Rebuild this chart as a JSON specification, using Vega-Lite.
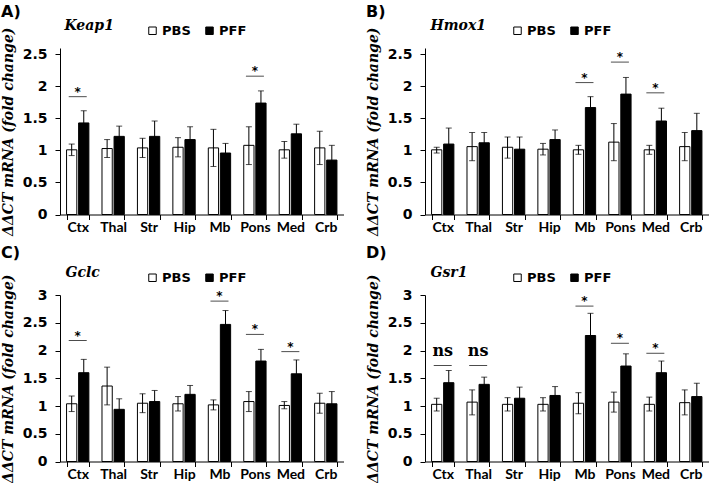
{
  "$schema": "https://vega.github.io/schema/vega-lite/v6.json",
  "padding": {"left": 1, "top": 4, "right": 0, "bottom": 0},
  "background": "white",
  "datasets": {
    "bars": [
      {"panel":"A","region":"Ctx","group":"PBS","mean":1.01,"lo":0.92,"hi":1.10},
      {"panel":"A","region":"Ctx","group":"PFF","mean":1.43,"lo":1.24,"hi":1.62},
      {"panel":"A","region":"Thal","group":"PBS","mean":1.03,"lo":0.89,"hi":1.17},
      {"panel":"A","region":"Thal","group":"PFF","mean":1.22,"lo":1.06,"hi":1.38},
      {"panel":"A","region":"Str","group":"PBS","mean":1.04,"lo":0.89,"hi":1.19},
      {"panel":"A","region":"Str","group":"PFF","mean":1.22,"lo":0.98,"hi":1.46},
      {"panel":"A","region":"Hip","group":"PBS","mean":1.05,"lo":0.90,"hi":1.20},
      {"panel":"A","region":"Hip","group":"PFF","mean":1.17,"lo":0.97,"hi":1.37},
      {"panel":"A","region":"Mb","group":"PBS","mean":1.04,"lo":0.75,"hi":1.33},
      {"panel":"A","region":"Mb","group":"PFF","mean":0.96,"lo":0.81,"hi":1.11},
      {"panel":"A","region":"Pons","group":"PBS","mean":1.08,"lo":0.78,"hi":1.37},
      {"panel":"A","region":"Pons","group":"PFF","mean":1.74,"lo":1.55,"hi":1.93},
      {"panel":"A","region":"Med","group":"PBS","mean":1.01,"lo":0.88,"hi":1.14},
      {"panel":"A","region":"Med","group":"PFF","mean":1.26,"lo":1.11,"hi":1.41},
      {"panel":"A","region":"Crb","group":"PBS","mean":1.04,"lo":0.78,"hi":1.30},
      {"panel":"A","region":"Crb","group":"PFF","mean":0.85,"lo":0.62,"hi":1.08},
      {"panel":"B","region":"Ctx","group":"PBS","mean":1.01,"lo":0.96,"hi":1.05},
      {"panel":"B","region":"Ctx","group":"PFF","mean":1.10,"lo":0.86,"hi":1.35},
      {"panel":"B","region":"Thal","group":"PBS","mean":1.06,"lo":0.84,"hi":1.28},
      {"panel":"B","region":"Thal","group":"PFF","mean":1.12,"lo":0.96,"hi":1.28},
      {"panel":"B","region":"Str","group":"PBS","mean":1.05,"lo":0.88,"hi":1.21},
      {"panel":"B","region":"Str","group":"PFF","mean":1.02,"lo":0.83,"hi":1.21},
      {"panel":"B","region":"Hip","group":"PBS","mean":1.02,"lo":0.93,"hi":1.11},
      {"panel":"B","region":"Hip","group":"PFF","mean":1.17,"lo":1.02,"hi":1.32},
      {"panel":"B","region":"Mb","group":"PBS","mean":1.01,"lo":0.94,"hi":1.08},
      {"panel":"B","region":"Mb","group":"PFF","mean":1.67,"lo":1.50,"hi":1.84},
      {"panel":"B","region":"Pons","group":"PBS","mean":1.13,"lo":0.84,"hi":1.42},
      {"panel":"B","region":"Pons","group":"PFF","mean":1.88,"lo":1.62,"hi":2.14},
      {"panel":"B","region":"Med","group":"PBS","mean":1.01,"lo":0.94,"hi":1.08},
      {"panel":"B","region":"Med","group":"PFF","mean":1.46,"lo":1.26,"hi":1.66},
      {"panel":"B","region":"Crb","group":"PBS","mean":1.06,"lo":0.84,"hi":1.28},
      {"panel":"B","region":"Crb","group":"PFF","mean":1.31,"lo":1.04,"hi":1.58},
      {"panel":"C","region":"Ctx","group":"PBS","mean":1.04,"lo":0.90,"hi":1.18},
      {"panel":"C","region":"Ctx","group":"PFF","mean":1.60,"lo":1.35,"hi":1.84},
      {"panel":"C","region":"Thal","group":"PBS","mean":1.36,"lo":1.02,"hi":1.70},
      {"panel":"C","region":"Thal","group":"PFF","mean":0.94,"lo":0.75,"hi":1.13},
      {"panel":"C","region":"Str","group":"PBS","mean":1.05,"lo":0.88,"hi":1.22},
      {"panel":"C","region":"Str","group":"PFF","mean":1.08,"lo":0.88,"hi":1.28},
      {"panel":"C","region":"Hip","group":"PBS","mean":1.04,"lo":0.91,"hi":1.17},
      {"panel":"C","region":"Hip","group":"PFF","mean":1.21,"lo":1.05,"hi":1.37},
      {"panel":"C","region":"Mb","group":"PBS","mean":1.02,"lo":0.93,"hi":1.11},
      {"panel":"C","region":"Mb","group":"PFF","mean":2.47,"lo":2.23,"hi":2.72},
      {"panel":"C","region":"Pons","group":"PBS","mean":1.08,"lo":0.90,"hi":1.26},
      {"panel":"C","region":"Pons","group":"PFF","mean":1.81,"lo":1.60,"hi":2.02},
      {"panel":"C","region":"Med","group":"PBS","mean":1.01,"lo":0.95,"hi":1.08},
      {"panel":"C","region":"Med","group":"PFF","mean":1.58,"lo":1.34,"hi":1.83},
      {"panel":"C","region":"Crb","group":"PBS","mean":1.05,"lo":0.87,"hi":1.23},
      {"panel":"C","region":"Crb","group":"PFF","mean":1.04,"lo":0.82,"hi":1.26},
      {"panel":"D","region":"Ctx","group":"PBS","mean":1.03,"lo":0.91,"hi":1.14},
      {"panel":"D","region":"Ctx","group":"PFF","mean":1.42,"lo":1.21,"hi":1.64},
      {"panel":"D","region":"Thal","group":"PBS","mean":1.07,"lo":0.84,"hi":1.29},
      {"panel":"D","region":"Thal","group":"PFF","mean":1.39,"lo":1.25,"hi":1.52},
      {"panel":"D","region":"Str","group":"PBS","mean":1.03,"lo":0.91,"hi":1.15},
      {"panel":"D","region":"Str","group":"PFF","mean":1.14,"lo":0.94,"hi":1.34},
      {"panel":"D","region":"Hip","group":"PBS","mean":1.03,"lo":0.91,"hi":1.15},
      {"panel":"D","region":"Hip","group":"PFF","mean":1.19,"lo":1.03,"hi":1.35},
      {"panel":"D","region":"Mb","group":"PBS","mean":1.05,"lo":0.86,"hi":1.24},
      {"panel":"D","region":"Mb","group":"PFF","mean":2.27,"lo":1.87,"hi":2.67},
      {"panel":"D","region":"Pons","group":"PBS","mean":1.07,"lo":0.89,"hi":1.25},
      {"panel":"D","region":"Pons","group":"PFF","mean":1.72,"lo":1.51,"hi":1.94},
      {"panel":"D","region":"Med","group":"PBS","mean":1.03,"lo":0.91,"hi":1.16},
      {"panel":"D","region":"Med","group":"PFF","mean":1.60,"lo":1.39,"hi":1.81},
      {"panel":"D","region":"Crb","group":"PBS","mean":1.06,"lo":0.84,"hi":1.29},
      {"panel":"D","region":"Crb","group":"PFF","mean":1.17,"lo":0.94,"hi":1.41}
    ],
    "sig": [
      {"panel":"A","region":"Ctx","line":1.84,"mark":"*"},
      {"panel":"A","region":"Pons","line":2.16,"mark":"*"},
      {"panel":"B","region":"Mb","line":2.06,"mark":"*"},
      {"panel":"B","region":"Pons","line":2.38,"mark":"*"},
      {"panel":"B","region":"Med","line":1.90,"mark":"*"},
      {"panel":"C","region":"Ctx","line":2.18,"mark":"*"},
      {"panel":"C","region":"Mb","line":2.89,"mark":"*"},
      {"panel":"C","region":"Pons","line":2.29,"mark":"*"},
      {"panel":"C","region":"Med","line":1.98,"mark":"*"},
      {"panel":"D","region":"Ctx","line":1.73,"mark":"ns"},
      {"panel":"D","region":"Thal","line":1.73,"mark":"ns"},
      {"panel":"D","region":"Mb","line":2.80,"mark":"*"},
      {"panel":"D","region":"Pons","line":2.13,"mark":"*"},
      {"panel":"D","region":"Med","line":1.95,"mark":"*"}
    ]
  },
  "columns": 2,
  "bounds": "flush",
  "spacing": {"row": 80, "column": 81},
  "resolve": {
    "scale": {"x": "independent", "y": "independent", "xOffset": "independent", "fill": "independent"},
    "legend": {"fill": "independent"}
  },
  "concat": [
    {
      "width": 283.5, "height": 166.5,
      "title": {"text": "A)", "dy": 6},
      "resolve": {"axis": {"x": "independent"}},
      "layer": [
        {
          "data": {"name": "bars"},
          "transform": [{"filter": "datum.panel == 'A'"}],
          "mark": {"type": "bar", "stroke": "black", "strokeWidth": 1},
          "encoding": {
            "x": {"field": "region", "type": "nominal", "sort": ["Ctx","Thal","Str","Hip","Mb","Pons","Med","Crb"], "scale": {"paddingInner": 0.37, "paddingOuter": 0.185}, "axis": {"orient": "bottom"}},
            "xOffset": {"field": "group", "type": "nominal", "sort": ["PBS","PFF"], "scale": {"paddingInner": 0.15}},
            "y": {"field": "mean", "type": "quantitative", "scale": {"domain": [0, 2.5]}, "axis": {"values": [0,0.5,1,1.5,2,2.5], "title": "ΔΔCT mRNA (fold change)"}},
            "fill": {"field": "group", "type": "nominal", "scale": {"domain": ["PBS","PFF"], "range": ["white","black"]}}
          }
        },
        {
          "data": {"name": "bars"},
          "transform": [{"filter": "datum.panel == 'A'"}],
          "mark": {"type": "rule", "color": "black", "strokeWidth": 1},
          "encoding": {
            "x": {"field": "region", "type": "nominal", "sort": ["Ctx","Thal","Str","Hip","Mb","Pons","Med","Crb"], "axis": null},
            "xOffset": {"field": "group", "type": "nominal", "sort": ["PBS","PFF"]},
            "y": {"field": "lo", "type": "quantitative", "axis": {"values": [0,0.5,1,1.5,2,2.5], "title": "ΔΔCT mRNA (fold change)"}},
            "y2": {"field": "hi"}
          }
        },
        {
          "data": {"name": "bars"},
          "transform": [{"filter": "datum.panel == 'A'"}],
          "mark": {"type": "tick", "color": "black", "size": 6, "thickness": 1},
          "encoding": {
            "x": {"field": "region", "type": "nominal", "sort": ["Ctx","Thal","Str","Hip","Mb","Pons","Med","Crb"], "axis": null},
            "xOffset": {"field": "group", "type": "nominal", "sort": ["PBS","PFF"]},
            "y": {"field": "hi", "type": "quantitative", "axis": {"values": [0,0.5,1,1.5,2,2.5], "title": "ΔΔCT mRNA (fold change)"}}
          }
        },
        {
          "data": {"name": "bars"},
          "transform": [{"filter": "datum.panel == 'A'"}],
          "mark": {"type": "tick", "color": "black", "size": 6, "thickness": 1},
          "encoding": {
            "x": {"field": "region", "type": "nominal", "sort": ["Ctx","Thal","Str","Hip","Mb","Pons","Med","Crb"], "axis": null},
            "xOffset": {"field": "group", "type": "nominal", "sort": ["PBS","PFF"]},
            "y": {"field": "lo", "type": "quantitative", "axis": {"values": [0,0.5,1,1.5,2,2.5], "title": "ΔΔCT mRNA (fold change)"}}
          }
        },
        {
          "data": {"name": "sig"},
          "transform": [{"filter": "datum.panel == 'A'"}],
          "mark": {"type": "tick", "color": "black", "size": 18, "thickness": 1},
          "encoding": {
            "x": {"field": "region", "type": "nominal", "sort": ["Ctx","Thal","Str","Hip","Mb","Pons","Med","Crb"], "axis": {"orient": "top", "domain": false, "ticks": false, "labels": false, "title": "Keap1", "titleX": 4, "titleY": -19, "titleAlign": "left", "titleBaseline": "alphabetic", "titleFont": "DejaVu Serif", "titleFontStyle": "italic", "titleFontWeight": "bold", "titleFontSize": 14}},
            "y": {"field": "line", "type": "quantitative", "axis": {"values": [0,0.5,1,1.5,2,2.5], "title": "ΔΔCT mRNA (fold change)"}}
          }
        },
        {
          "data": {"name": "sig"},
          "transform": [{"filter": "datum.panel == 'A' && datum.mark == '*'"}],
          "mark": {"type": "text", "color": "black", "font": "DejaVu Sans", "fontWeight": "bold", "fontSize": 12, "baseline": "alphabetic", "dy": -1},
          "encoding": {
            "x": {"field": "region", "type": "nominal", "sort": ["Ctx","Thal","Str","Hip","Mb","Pons","Med","Crb"], "axis": null},
            "y": {"field": "line", "type": "quantitative", "axis": {"values": [0,0.5,1,1.5,2,2.5], "title": "ΔΔCT mRNA (fold change)"}},
            "text": {"field": "mark"}
          }
        }
      ]
    },
    {
      "width": 283.5, "height": 166.5,
      "title": {"text": "B)", "dy": 6},
      "resolve": {"axis": {"x": "independent"}},
      "layer": [
        {
          "data": {"name": "bars"},
          "transform": [{"filter": "datum.panel == 'B'"}],
          "mark": {"type": "bar", "stroke": "black", "strokeWidth": 1},
          "encoding": {
            "x": {"field": "region", "type": "nominal", "sort": ["Ctx","Thal","Str","Hip","Mb","Pons","Med","Crb"], "scale": {"paddingInner": 0.37, "paddingOuter": 0.185}, "axis": {"orient": "bottom"}},
            "xOffset": {"field": "group", "type": "nominal", "sort": ["PBS","PFF"], "scale": {"paddingInner": 0.15}},
            "y": {"field": "mean", "type": "quantitative", "scale": {"domain": [0, 2.5]}, "axis": {"values": [0,0.5,1,1.5,2,2.5], "title": "ΔΔCT mRNA (fold change)"}},
            "fill": {"field": "group", "type": "nominal", "scale": {"domain": ["PBS","PFF"], "range": ["white","black"]}}
          }
        },
        {
          "data": {"name": "bars"},
          "transform": [{"filter": "datum.panel == 'B'"}],
          "mark": {"type": "rule", "color": "black", "strokeWidth": 1},
          "encoding": {
            "x": {"field": "region", "type": "nominal", "sort": ["Ctx","Thal","Str","Hip","Mb","Pons","Med","Crb"], "axis": null},
            "xOffset": {"field": "group", "type": "nominal", "sort": ["PBS","PFF"]},
            "y": {"field": "lo", "type": "quantitative", "axis": {"values": [0,0.5,1,1.5,2,2.5], "title": "ΔΔCT mRNA (fold change)"}},
            "y2": {"field": "hi"}
          }
        },
        {
          "data": {"name": "bars"},
          "transform": [{"filter": "datum.panel == 'B'"}],
          "mark": {"type": "tick", "color": "black", "size": 6, "thickness": 1},
          "encoding": {
            "x": {"field": "region", "type": "nominal", "sort": ["Ctx","Thal","Str","Hip","Mb","Pons","Med","Crb"], "axis": null},
            "xOffset": {"field": "group", "type": "nominal", "sort": ["PBS","PFF"]},
            "y": {"field": "hi", "type": "quantitative", "axis": {"values": [0,0.5,1,1.5,2,2.5], "title": "ΔΔCT mRNA (fold change)"}}
          }
        },
        {
          "data": {"name": "bars"},
          "transform": [{"filter": "datum.panel == 'B'"}],
          "mark": {"type": "tick", "color": "black", "size": 6, "thickness": 1},
          "encoding": {
            "x": {"field": "region", "type": "nominal", "sort": ["Ctx","Thal","Str","Hip","Mb","Pons","Med","Crb"], "axis": null},
            "xOffset": {"field": "group", "type": "nominal", "sort": ["PBS","PFF"]},
            "y": {"field": "lo", "type": "quantitative", "axis": {"values": [0,0.5,1,1.5,2,2.5], "title": "ΔΔCT mRNA (fold change)"}}
          }
        },
        {
          "data": {"name": "sig"},
          "transform": [{"filter": "datum.panel == 'B'"}],
          "mark": {"type": "tick", "color": "black", "size": 18, "thickness": 1},
          "encoding": {
            "x": {"field": "region", "type": "nominal", "sort": ["Ctx","Thal","Str","Hip","Mb","Pons","Med","Crb"], "axis": {"orient": "top", "domain": false, "ticks": false, "labels": false, "title": "Hmox1", "titleX": 5, "titleY": -19, "titleAlign": "left", "titleBaseline": "alphabetic", "titleFont": "DejaVu Serif", "titleFontStyle": "italic", "titleFontWeight": "bold", "titleFontSize": 14}},
            "y": {"field": "line", "type": "quantitative", "axis": {"values": [0,0.5,1,1.5,2,2.5], "title": "ΔΔCT mRNA (fold change)"}}
          }
        },
        {
          "data": {"name": "sig"},
          "transform": [{"filter": "datum.panel == 'B' && datum.mark == '*'"}],
          "mark": {"type": "text", "color": "black", "font": "DejaVu Sans", "fontWeight": "bold", "fontSize": 12, "baseline": "alphabetic", "dy": -1},
          "encoding": {
            "x": {"field": "region", "type": "nominal", "sort": ["Ctx","Thal","Str","Hip","Mb","Pons","Med","Crb"], "axis": null},
            "y": {"field": "line", "type": "quantitative", "axis": {"values": [0,0.5,1,1.5,2,2.5], "title": "ΔΔCT mRNA (fold change)"}},
            "text": {"field": "mark"}
          }
        }
      ]
    },
    {
      "width": 283.5, "height": 166.5,
      "title": {"text": "C)"},
      "resolve": {"axis": {"x": "independent"}},
      "layer": [
        {
          "data": {"name": "bars"},
          "transform": [{"filter": "datum.panel == 'C'"}],
          "mark": {"type": "bar", "stroke": "black", "strokeWidth": 1},
          "encoding": {
            "x": {"field": "region", "type": "nominal", "sort": ["Ctx","Thal","Str","Hip","Mb","Pons","Med","Crb"], "scale": {"paddingInner": 0.37, "paddingOuter": 0.185}, "axis": {"orient": "bottom"}},
            "xOffset": {"field": "group", "type": "nominal", "sort": ["PBS","PFF"], "scale": {"paddingInner": 0.15}},
            "y": {"field": "mean", "type": "quantitative", "scale": {"domain": [0, 3]}, "axis": {"values": [0,0.5,1,1.5,2,2.5,3], "title": "ΔΔCT mRNA (fold change)"}},
            "fill": {"field": "group", "type": "nominal", "scale": {"domain": ["PBS","PFF"], "range": ["white","black"]}}
          }
        },
        {
          "data": {"name": "bars"},
          "transform": [{"filter": "datum.panel == 'C'"}],
          "mark": {"type": "rule", "color": "black", "strokeWidth": 1},
          "encoding": {
            "x": {"field": "region", "type": "nominal", "sort": ["Ctx","Thal","Str","Hip","Mb","Pons","Med","Crb"], "axis": null},
            "xOffset": {"field": "group", "type": "nominal", "sort": ["PBS","PFF"]},
            "y": {"field": "lo", "type": "quantitative", "axis": {"values": [0,0.5,1,1.5,2,2.5,3], "title": "ΔΔCT mRNA (fold change)"}},
            "y2": {"field": "hi"}
          }
        },
        {
          "data": {"name": "bars"},
          "transform": [{"filter": "datum.panel == 'C'"}],
          "mark": {"type": "tick", "color": "black", "size": 6, "thickness": 1},
          "encoding": {
            "x": {"field": "region", "type": "nominal", "sort": ["Ctx","Thal","Str","Hip","Mb","Pons","Med","Crb"], "axis": null},
            "xOffset": {"field": "group", "type": "nominal", "sort": ["PBS","PFF"]},
            "y": {"field": "hi", "type": "quantitative", "axis": {"values": [0,0.5,1,1.5,2,2.5,3], "title": "ΔΔCT mRNA (fold change)"}}
          }
        },
        {
          "data": {"name": "bars"},
          "transform": [{"filter": "datum.panel == 'C'"}],
          "mark": {"type": "tick", "color": "black", "size": 6, "thickness": 1},
          "encoding": {
            "x": {"field": "region", "type": "nominal", "sort": ["Ctx","Thal","Str","Hip","Mb","Pons","Med","Crb"], "axis": null},
            "xOffset": {"field": "group", "type": "nominal", "sort": ["PBS","PFF"]},
            "y": {"field": "lo", "type": "quantitative", "axis": {"values": [0,0.5,1,1.5,2,2.5,3], "title": "ΔΔCT mRNA (fold change)"}}
          }
        },
        {
          "data": {"name": "sig"},
          "transform": [{"filter": "datum.panel == 'C'"}],
          "mark": {"type": "tick", "color": "black", "size": 18, "thickness": 1},
          "encoding": {
            "x": {"field": "region", "type": "nominal", "sort": ["Ctx","Thal","Str","Hip","Mb","Pons","Med","Crb"], "axis": {"orient": "top", "domain": false, "ticks": false, "labels": false, "title": "Gclc", "titleX": 5, "titleY": -19, "titleAlign": "left", "titleBaseline": "alphabetic", "titleFont": "DejaVu Serif", "titleFontStyle": "italic", "titleFontWeight": "bold", "titleFontSize": 14}},
            "y": {"field": "line", "type": "quantitative", "axis": {"values": [0,0.5,1,1.5,2,2.5,3], "title": "ΔΔCT mRNA (fold change)"}}
          }
        },
        {
          "data": {"name": "sig"},
          "transform": [{"filter": "datum.panel == 'C' && datum.mark == '*'"}],
          "mark": {"type": "text", "color": "black", "font": "DejaVu Sans", "fontWeight": "bold", "fontSize": 12, "baseline": "alphabetic", "dy": -1},
          "encoding": {
            "x": {"field": "region", "type": "nominal", "sort": ["Ctx","Thal","Str","Hip","Mb","Pons","Med","Crb"], "axis": null},
            "y": {"field": "line", "type": "quantitative", "axis": {"values": [0,0.5,1,1.5,2,2.5,3], "title": "ΔΔCT mRNA (fold change)"}},
            "text": {"field": "mark"}
          }
        }
      ]
    },
    {
      "width": 283.5, "height": 166.5,
      "title": {"text": "D)"},
      "resolve": {"axis": {"x": "independent"}},
      "layer": [
        {
          "data": {"name": "bars"},
          "transform": [{"filter": "datum.panel == 'D'"}],
          "mark": {"type": "bar", "stroke": "black", "strokeWidth": 1},
          "encoding": {
            "x": {"field": "region", "type": "nominal", "sort": ["Ctx","Thal","Str","Hip","Mb","Pons","Med","Crb"], "scale": {"paddingInner": 0.37, "paddingOuter": 0.185}, "axis": {"orient": "bottom"}},
            "xOffset": {"field": "group", "type": "nominal", "sort": ["PBS","PFF"], "scale": {"paddingInner": 0.15}},
            "y": {"field": "mean", "type": "quantitative", "scale": {"domain": [0, 3]}, "axis": {"values": [0,0.5,1,1.5,2,2.5,3], "title": "ΔΔCT mRNA (fold change)"}},
            "fill": {"field": "group", "type": "nominal", "scale": {"domain": ["PBS","PFF"], "range": ["white","black"]}}
          }
        },
        {
          "data": {"name": "bars"},
          "transform": [{"filter": "datum.panel == 'D'"}],
          "mark": {"type": "rule", "color": "black", "strokeWidth": 1},
          "encoding": {
            "x": {"field": "region", "type": "nominal", "sort": ["Ctx","Thal","Str","Hip","Mb","Pons","Med","Crb"], "axis": null},
            "xOffset": {"field": "group", "type": "nominal", "sort": ["PBS","PFF"]},
            "y": {"field": "lo", "type": "quantitative", "axis": {"values": [0,0.5,1,1.5,2,2.5,3], "title": "ΔΔCT mRNA (fold change)"}},
            "y2": {"field": "hi"}
          }
        },
        {
          "data": {"name": "bars"},
          "transform": [{"filter": "datum.panel == 'D'"}],
          "mark": {"type": "tick", "color": "black", "size": 6, "thickness": 1},
          "encoding": {
            "x": {"field": "region", "type": "nominal", "sort": ["Ctx","Thal","Str","Hip","Mb","Pons","Med","Crb"], "axis": null},
            "xOffset": {"field": "group", "type": "nominal", "sort": ["PBS","PFF"]},
            "y": {"field": "hi", "type": "quantitative", "axis": {"values": [0,0.5,1,1.5,2,2.5,3], "title": "ΔΔCT mRNA (fold change)"}}
          }
        },
        {
          "data": {"name": "bars"},
          "transform": [{"filter": "datum.panel == 'D'"}],
          "mark": {"type": "tick", "color": "black", "size": 6, "thickness": 1},
          "encoding": {
            "x": {"field": "region", "type": "nominal", "sort": ["Ctx","Thal","Str","Hip","Mb","Pons","Med","Crb"], "axis": null},
            "xOffset": {"field": "group", "type": "nominal", "sort": ["PBS","PFF"]},
            "y": {"field": "lo", "type": "quantitative", "axis": {"values": [0,0.5,1,1.5,2,2.5,3], "title": "ΔΔCT mRNA (fold change)"}}
          }
        },
        {
          "data": {"name": "sig"},
          "transform": [{"filter": "datum.panel == 'D'"}],
          "mark": {"type": "tick", "color": "black", "size": 18, "thickness": 1},
          "encoding": {
            "x": {"field": "region", "type": "nominal", "sort": ["Ctx","Thal","Str","Hip","Mb","Pons","Med","Crb"], "axis": {"orient": "top", "domain": false, "ticks": false, "labels": false, "title": "Gsr1", "titleX": 5, "titleY": -19, "titleAlign": "left", "titleBaseline": "alphabetic", "titleFont": "DejaVu Serif", "titleFontStyle": "italic", "titleFontWeight": "bold", "titleFontSize": 14}},
            "y": {"field": "line", "type": "quantitative", "axis": {"values": [0,0.5,1,1.5,2,2.5,3], "title": "ΔΔCT mRNA (fold change)"}}
          }
        },
        {
          "data": {"name": "sig"},
          "transform": [{"filter": "datum.panel == 'D' && datum.mark == '*'"}],
          "mark": {"type": "text", "color": "black", "font": "DejaVu Sans", "fontWeight": "bold", "fontSize": 12, "baseline": "alphabetic", "dy": -1},
          "encoding": {
            "x": {"field": "region", "type": "nominal", "sort": ["Ctx","Thal","Str","Hip","Mb","Pons","Med","Crb"], "axis": null},
            "y": {"field": "line", "type": "quantitative", "axis": {"values": [0,0.5,1,1.5,2,2.5,3], "title": "ΔΔCT mRNA (fold change)"}},
            "text": {"field": "mark"}
          }
        },
        {
          "data": {"name": "sig"},
          "transform": [{"filter": "datum.panel == 'D' && datum.mark == 'ns'"}],
          "mark": {"type": "text", "color": "black", "font": "DejaVu Serif", "fontWeight": "bold", "fontSize": 16, "baseline": "alphabetic", "dy": -9},
          "encoding": {
            "x": {"field": "region", "type": "nominal", "sort": ["Ctx","Thal","Str","Hip","Mb","Pons","Med","Crb"], "axis": null},
            "y": {"field": "line", "type": "quantitative", "axis": {"values": [0,0.5,1,1.5,2,2.5,3], "title": "ΔΔCT mRNA (fold change)"}},
            "text": {"field": "mark"}
          }
        }
      ]
    }
  ],
  "config": {
    "view": {"stroke": null},
    "axis": {"domainColor": "black", "tickColor": "black", "labelColor": "black", "titleColor": "black", "grid": false, "labelFontWeight": "bold", "tickSize": 5, "domainWidth": 1, "tickWidth": 1},
    "axisX": {"tickBand": "extent", "labelAngle": 0, "labelPadding": 1, "title": null, "labelFont": "Lato", "labelFontSize": 14},
    "axisY": {"titleFont": "DejaVu Serif", "titleFontStyle": "italic", "titleFontWeight": "bold", "titleFontSize": 14, "titlePadding": 7, "labelPadding": 8, "format": "~g", "labelFont": "DejaVu Sans", "labelFontSize": 14},
    "legend": {"orient": "none", "legendX": 86, "legendY": -24, "direction": "horizontal", "title": null, "symbolType": "square", "symbolSize": 56, "symbolStrokeColor": "black", "symbolStrokeWidth": 1, "labelFont": "DejaVu Sans", "labelFontWeight": "bold", "labelFontSize": 13, "labelColor": "black", "labelOffset": 3, "columnPadding": 12, "padding": 0},
    "title": {"font": "DejaVu Sans", "fontSize": 16, "fontWeight": "bold", "anchor": "start", "frame": "group", "dx": -59, "color": "black"}
  }
}
